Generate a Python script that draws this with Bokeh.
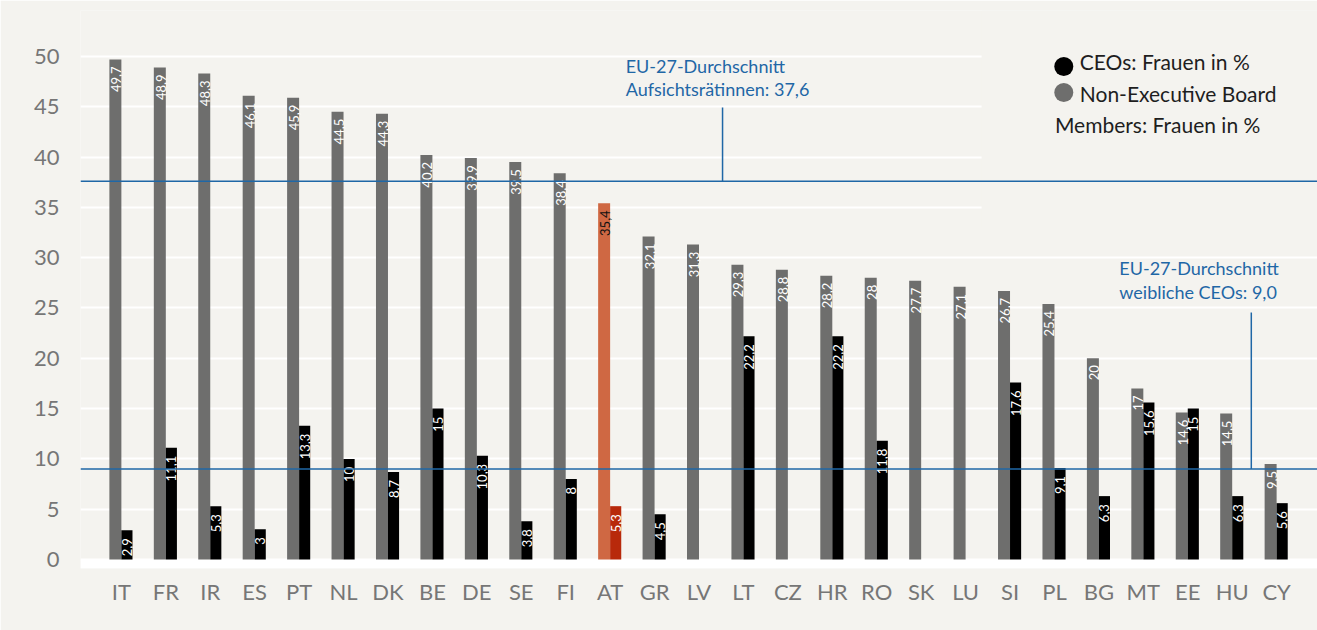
import math
from bokeh.plotting import figure
from bokeh.models import FactorRange, Range1d, ColumnDataSource, Span, BoxAnnotation
from bokeh.transform import dodge
from bokeh.core.properties import value
from bokeh.embed import file_html
from bokeh.resources import INLINE

# ---------------- data ----------------
countries = ["IT", "FR", "IR", "ES", "PT", "NL", "DK", "BE", "DE", "SE", "FI", "AT", "GR", "LV",
             "LT", "CZ", "HR", "RO", "SK", "LU", "SI", "PL", "BG", "MT", "EE", "HU", "CY"]
board_women = [49.7, 48.9, 48.3, 46.1, 45.9, 44.5, 44.3, 40.2, 39.9, 39.5, 38.4, 35.4, 32.1, 31.3,
               29.3, 28.8, 28.2, 28.0, 27.7, 27.1, 26.7, 25.4, 20.0, 17.0, 14.6, 14.5, 9.5]
ceo_women = [2.9, 11.1, 5.3, 3.0, 13.3, 10.0, 8.7, 15.0, 10.3, 3.8, 8.0, 5.3, 4.5, 0.0,
             22.2, 0.0, 22.2, 11.8, 0.0, 0.0, 17.6, 9.1, 6.3, 15.6, 15.0, 6.3, 5.6]
y_ticks = [0, 5, 10, 15, 20, 25, 30, 35, 40, 45, 50]
eu_board_avg = 37.6
eu_ceo_avg = 9.0
highlight = "AT"

legend_ceo = "CEOs: Frauen in %"
legend_board_1 = "Non-Executive Board"
legend_board_2 = "Members: Frauen in %"
avg_title = "EU-27-Durchschnitt"
avg_board_text = "Aufsichtsrätinnen: " + f"{eu_board_avg:.1f}".replace(".", ",")
avg_ceo_text = "weibliche CEOs: " + f"{eu_ceo_avg:.1f}".replace(".", ",")

# ---------------- styles ----------------
BG = "#f4f3ef"
GRAY = "#6e6e6d"
BLACK = "#000000"
ORANGE = "#cf6843"
RED = "#b8290b"
BLUE = "#1f67a6"
TICK = "#767676"
FONT = "Lato"


def fmt(v):
    return f"{v:g}".replace(".", ",")


src = ColumnDataSource(dict(
    country=countries,
    board=board_women,
    ceo=ceo_women,
    board_color=[ORANGE if c == highlight else GRAY for c in countries],
    ceo_color=[RED if c == highlight else BLACK for c in countries],
    board_label=[fmt(v) for v in board_women],
    ceo_label=[fmt(v) if v > 0 else "" for v in ceo_women],
    board_label_color=["#111111" if c == highlight else "#ffffff" for c in countries],
))

p = figure(
    x_range=FactorRange(factors=countries, range_padding=0.42, range_padding_units="absolute"),
    y_range=Range1d(-0.895, 54.57),
    width=1317, height=630,
    output_backend="svg", toolbar_location=None,
    min_border_left=80, min_border_right=0, min_border_top=10, min_border_bottom=62,
)
p.background_fill_color = BG
p.border_fill_color = BG
p.outline_line_color = None

p.xgrid.grid_line_color = None
p.ygrid.grid_line_color = "#ffffff"
p.ygrid.grid_line_width = 2
p.yaxis.ticker = y_ticks

for ax in (p.xaxis[0], p.yaxis[0]):
    ax.axis_line_color = None
    ax.major_tick_line_color = None
    ax.minor_tick_line_color = None
    ax.major_label_text_font = FONT
    ax.major_label_text_font_size = "22px"
    ax.major_label_text_color = TICK
p.yaxis.major_label_standoff = 15
p.xaxis.major_label_standoff = 3

# white baseline band below zero
p.add_layout(BoxAnnotation(top=0, fill_color="#ffffff", fill_alpha=1, line_color=None, level="underlay"))
# legend area background (hides upper gridlines)
p.add_layout(BoxAnnotation(left=19.86, bottom=33, fill_color=BG, fill_alpha=1, line_color=None, level="underlay"))

gx = dodge("country", -0.135, range=p.x_range)
cx = dodge("country", 0.125, range=p.x_range)

p.vbar(x=gx, top="board", width=0.27, source=src, fill_color="board_color", line_color=None)
p.vbar(x=cx, top="ceo", width=0.25, source=src, fill_color="ceo_color", line_color=None)

p.text(x=gx, y="board", text="board_label", source=src, angle=math.pi / 2,
       text_align="right", text_baseline="middle", y_offset=7, x_offset=1,
       text_color="board_label_color", text_font=value(FONT), text_font_size="13px")
p.text(x=cx, y="ceo", text="ceo_label", source=src, angle=math.pi / 2,
       text_align="right", text_baseline="middle", y_offset=8,
       text_color="#ffffff", text_font=value(FONT), text_font_size="13px")

# average lines
p.add_layout(Span(location=eu_board_avg, dimension="width", line_color=BLUE, line_width=1.5))
p.add_layout(Span(location=eu_ceo_avg, dimension="width", line_color=BLUE, line_width=1.5))

p.segment(x0=[14.03], y0=[44.93], x1=[14.03], y1=[eu_board_avg], line_color=BLUE, line_width=1.5)
p.segment(x0=[25.93], y0=[24.55], x1=[25.93], y1=[eu_ceo_avg], line_color=BLUE, line_width=1.5)

p.text(x=[11.85, 11.85], y=[49.07, 46.74], text=[avg_title, avg_board_text],
       text_align="left", text_baseline="middle", text_color=BLUE,
       text_font=value(FONT), text_font_size="18px")
p.text(x=[22.96, 22.96], y=[28.94, 26.62], text=[avg_title, avg_ceo_text],
       text_align="left", text_baseline="middle", text_color=BLUE,
       text_font=value(FONT), text_font_size="18px")

# manual legend
p.scatter(x=[21.71, 21.71], y=[49.0, 46.42], size=19, fill_color=[BLACK, GRAY], line_color=None)
p.text(x=[22.07, 22.07, 21.51], y=[49.51, 46.35, 43.25],
       text=[legend_ceo, legend_board_1, legend_board_2],
       text_align="left", text_baseline="middle", text_color="#1e1e1e",
       text_font=value(FONT), text_font_size="21px")

open("out.html", "w").write(file_html(p, INLINE))
